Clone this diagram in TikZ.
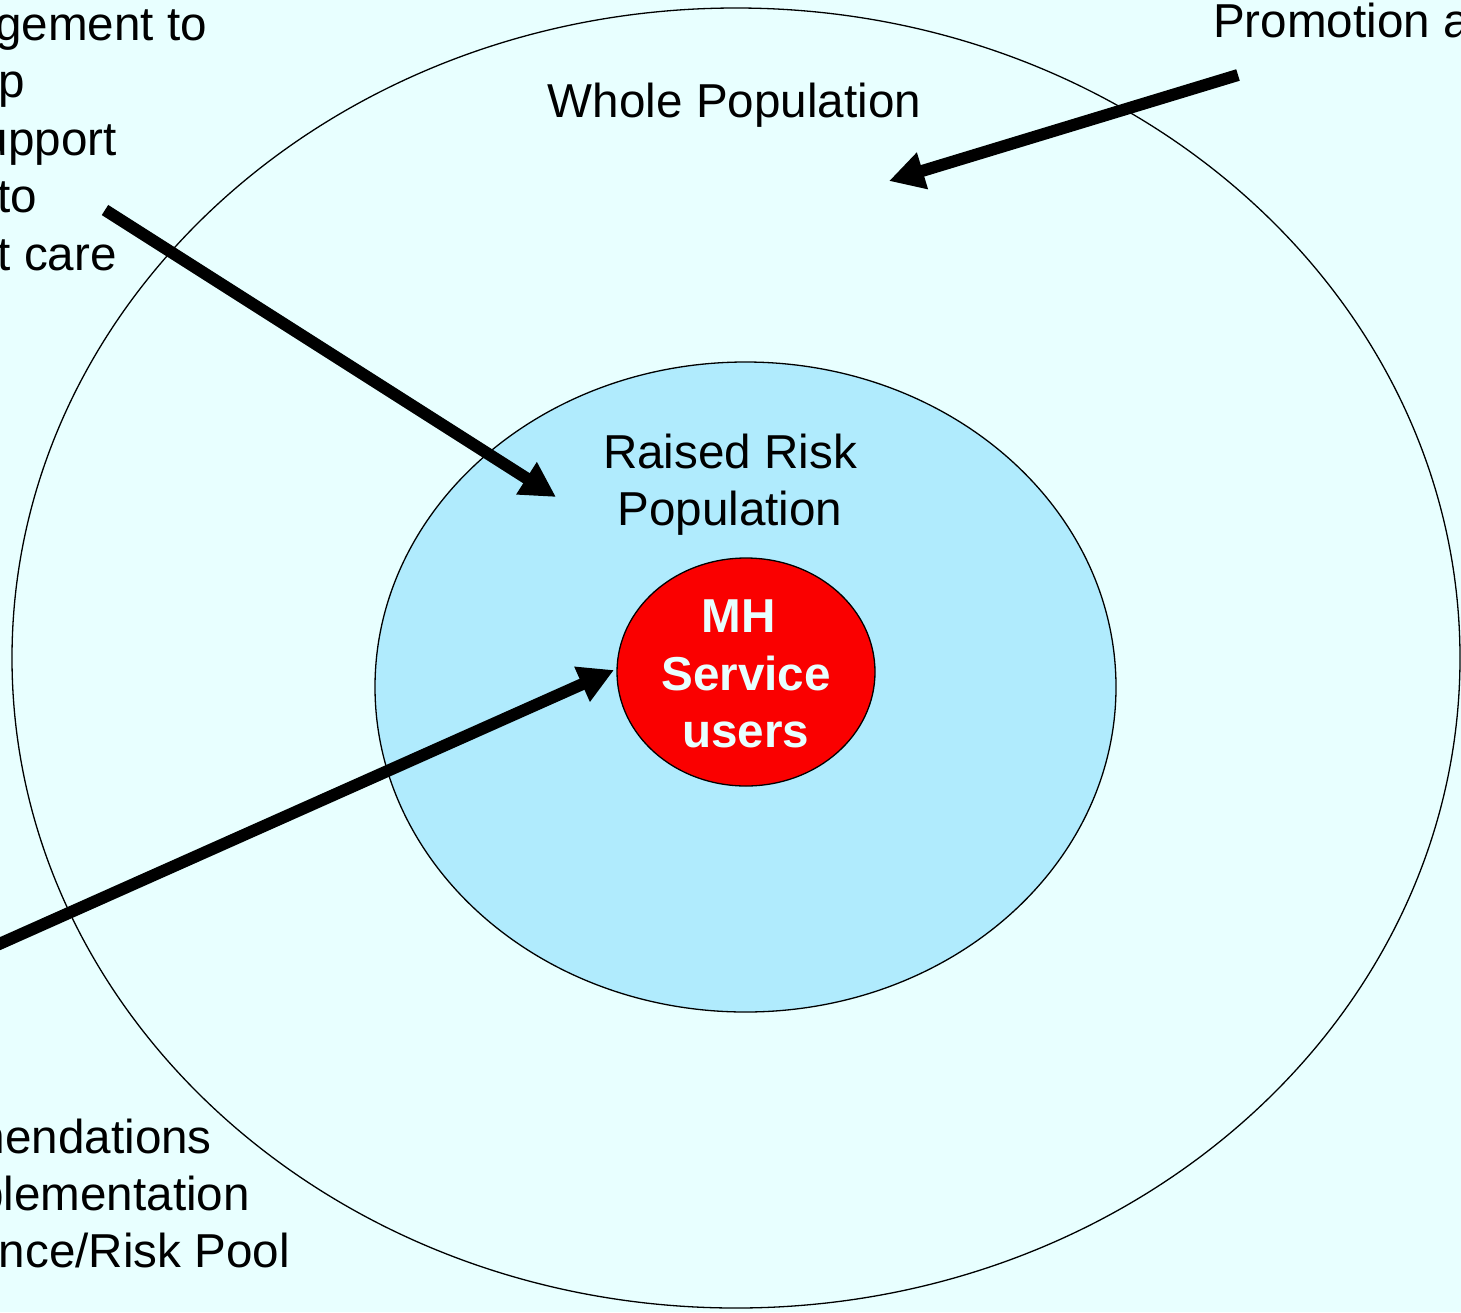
\documentclass[tikz,border=0pt]{standalone}
\usepackage{fontspec}
\setmainfont{Liberation Sans}
\usetikzlibrary{shapes.geometric,arrows.meta}
\definecolor{bgcyan}{RGB}{232,255,255}
\definecolor{midblue}{RGB}{176,235,253}
\definecolor{redfill}{RGB}{250,0,0}
\tikzset{
  ring/.style={ellipse, draw=black, line width=1.3pt, inner sep=0pt},
  lbl/.style={inner sep=0pt, font=\fontsize{47.6pt}{57.5pt}\selectfont},
  bigarrow/.style={line width=12pt, -{Triangle[length=35pt,width=36pt]}}
}
\begin{document}
\begin{tikzpicture}[x=1pt,y=-1pt]
\useasboundingbox (0,0) rectangle (1461,1312);
\clip (0,0) rectangle (1461,1312);
\fill[bgcyan] (0,0) rectangle (1461,1312);
% rings
\node[ring, fill=bgcyan, minimum width=1448pt, minimum height=1300pt] (outer) at (736,658) {};
\node[ring, fill=midblue, minimum width=741pt, minimum height=650pt] (mid) at (745.5,687) {};
\node[ring, fill=redfill, minimum width=258pt, minimum height=228pt] (inner) at (746,672) {};
% labels
\node[lbl, anchor=base] (whole) at (734.5,117) {Whole Population};
\node[lbl, anchor=base] (raised1) at (730,468) {Raised Risk};
\node[lbl, anchor=base] (raised2) at (730,525) {Population};
\node[lbl, anchor=base, text=bgcyan, font=\fontsize{47.6pt}{57.5pt}\selectfont\bfseries] (mh1) at (739,632) {MH};
\node[lbl, anchor=base, text=bgcyan, font=\fontsize{47.6pt}{57.5pt}\selectfont\bfseries] (mh2) at (746,690) {Service};
\node[lbl, anchor=base, text=bgcyan, font=\fontsize{47.6pt}{57.5pt}\selectfont\bfseries] (mh3) at (745.5,747) {users};
% left clipped text
\node[lbl, anchor=base east] (l1) at (207,40) {gement to};
\node[lbl, anchor=base east] (l2) at (25,97) {p};
\node[lbl, anchor=base east] (l3) at (117,155) {upport};
\node[lbl, anchor=base east] (l4) at (37,212) {to};
\node[lbl, anchor=base east] (l5) at (117,270) {t care};
% bottom-left clipped text
\node[lbl, anchor=base east] (b1) at (212,1153) {mendations};
\node[lbl, anchor=base east] (b2) at (250,1210) {plementation};
\node[lbl, anchor=base east] (b3) at (290,1267) {nce/Risk Pool};
% top-right clipped text
\node[lbl, anchor=base west] (promo) at (1213,37) {Promotion and};
% arrows
\coordinate (a1s) at (105,210);
\coordinate (a1e) at (556,497);
\coordinate (a2s) at (1238,75);
\coordinate (a2e) at (889,181);
\coordinate (a3s) at (-30,957);
\coordinate (a3e) at (614,670);
\draw[bigarrow] (a1s) -- (a1e);
\draw[bigarrow] (a2s) -- (a2e);
\draw[bigarrow] (a3s) -- (a3e);
\end{tikzpicture}
\end{document}
